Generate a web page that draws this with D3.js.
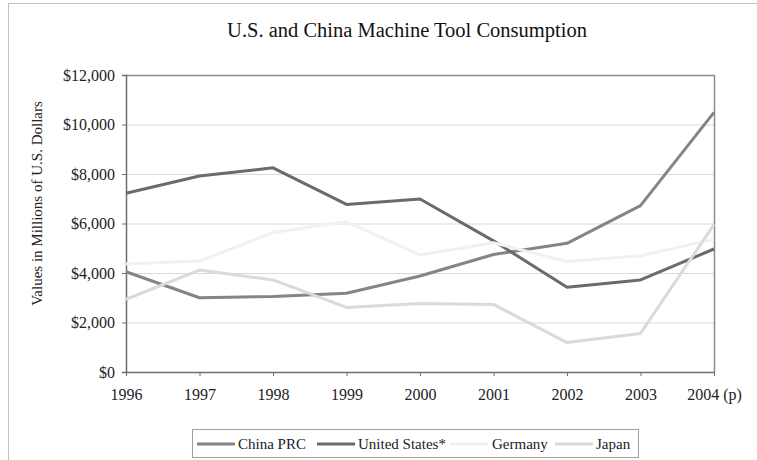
<!DOCTYPE html>
<html>
<head>
<meta charset="utf-8">
<script src="https://cdn.jsdelivr.net/npm/d3@7"></script>
<style>
  html, body { margin: 0; padding: 0; background: #fff; }
  svg { display: block; }
  svg text { font-family: "Liberation Serif", "Times New Roman", serif; }
</style>
</head>
<body>
<svg id="chart" width="757" height="460"></svg>
<script>
// Machine tool consumption, millions of U.S. dollars
const years = ["1996", "1997", "1998", "1999", "2000", "2001", "2002", "2003", "2004 (p)"];
const chinaPRC     = [4050, 3000, 3050, 3180, 3880, 4750, 5200, 6720, 10490];
const unitedStates = [7220, 7920, 8250, 6770, 6990, 5300, 3420, 3720, 4970];
const germany      = [4360, 4480, 5640, 6070, 4730, 5220, 4460, 4700, 5360];
const japan        = [2940, 4120, 3720, 2610, 2770, 2730, 1190, 1560, 5960];
const yTicks = [0, 2000, 4000, 6000, 8000, 10000, 12000];

const series = [
  { name: "China PRC",      values: chinaPRC,     color: "#858585" },
  { name: "United States*", values: unitedStates, color: "#6b6b6b" },
  { name: "Germany",        values: germany,      color: "#f1f1f1" },
  { name: "Japan",          values: japan,        color: "#dadada" }
];

const svg = d3.select("#chart");
const plot = { left: 126, right: 714, top: 75, bottom: 372 };

// outer chart frame
svg.append("rect")
  .attr("x", 8.5).attr("y", 3.5).attr("width", 760).attr("height", 470)
  .attr("fill", "none").attr("stroke", "#c0c0c0").attr("stroke-width", 1);

const x = d3.scalePoint().domain(years).range([plot.left, plot.right]);
const y = d3.scaleLinear().domain([0, 12000]).range([plot.bottom, plot.top]);

// gridlines
svg.append("g")
  .selectAll("line")
  .data(yTicks.filter(d => d > 0 && d < 12000))
  .join("line")
  .attr("x1", plot.left).attr("x2", plot.right)
  .attr("y1", d => y(d) + 0.5).attr("y2", d => y(d) + 0.5)
  .attr("stroke", "#d9d9d9").attr("stroke-width", 1);

// plot frame (top and right)
svg.append("path")
  .attr("d", `M${plot.left},${y(12000) + 0.5}H${plot.right + 0.5}V${plot.bottom}`)
  .attr("fill", "none").attr("stroke", "#8c8c8c").attr("stroke-width", 1.5);

// y axis
const yAxis = svg.append("g")
  .attr("transform", `translate(${plot.left},0)`)
  .call(d3.axisLeft(y).tickValues(yTicks).tickSize(4).tickPadding(7)
    .tickFormat(d => "$" + d3.format(",")(d)))
  .attr("font-family", null).attr("font-size", null);
yAxis.select(".domain").attr("stroke", "#6e6e6e").attr("stroke-width", 1.5);
yAxis.selectAll(".tick line").attr("stroke", "#6e6e6e");
yAxis.selectAll("text").style("font-size", "16px").attr("fill", "#222");

// x axis
const xAxis = svg.append("g")
  .attr("transform", `translate(0,${plot.bottom})`)
  .call(d3.axisBottom(x).tickSize(4).tickSizeOuter(0).tickPadding(13))
  .attr("font-family", null).attr("font-size", null);
xAxis.select(".domain").attr("stroke", "#6e6e6e").attr("stroke-width", 1.5);
xAxis.selectAll(".tick line").attr("stroke", "#6e6e6e");
xAxis.selectAll("text").style("font-size", "16px").attr("fill", "#222");

// series lines
const line = d3.line().x((d, i) => x(years[i])).y(d => y(d));
svg.append("g")
  .selectAll("path")
  .data(series)
  .join("path")
  .attr("d", d => line(d.values))
  .attr("fill", "none")
  .attr("stroke", d => d.color)
  .attr("stroke-width", 3)
  .attr("stroke-linejoin", "round");

// title
svg.append("text")
  .attr("x", 407).attr("y", 37)
  .attr("text-anchor", "middle")
  .style("font-size", "20.5px").attr("fill", "#111")
  .text("U.S. and China Machine Tool Consumption");

// y axis title
svg.append("text")
  .attr("transform", `translate(42,${(plot.top + plot.bottom) / 2 - 20}) rotate(-90)`)
  .attr("text-anchor", "middle")
  .style("font-size", "15px").attr("fill", "#222")
  .text("Values in Millions of U.S. Dollars");

// legend
const legend = svg.append("g");
legend.append("rect")
  .attr("x", 192.5).attr("y", 429.5).attr("width", 446).attr("height", 28)
  .attr("fill", "#fff").attr("stroke", "#a0a0a0");
const legendX = [197, 317, 450, 555];
const item = legend.selectAll("g.item")
  .data(series)
  .join("g").attr("class", "item")
  .attr("transform", (d, i) => `translate(${legendX[i]},444)`);
item.append("line")
  .attr("x1", 0).attr("x2", 38)
  .attr("stroke", d => d.color).attr("stroke-width", 3);
item.append("text")
  .attr("x", (d, i) => i === 2 ? 42 : 41).attr("y", 5)
  .style("font-size", "15px").attr("fill", "#222")
  .text(d => d.name);
</script>
</body>
</html>
